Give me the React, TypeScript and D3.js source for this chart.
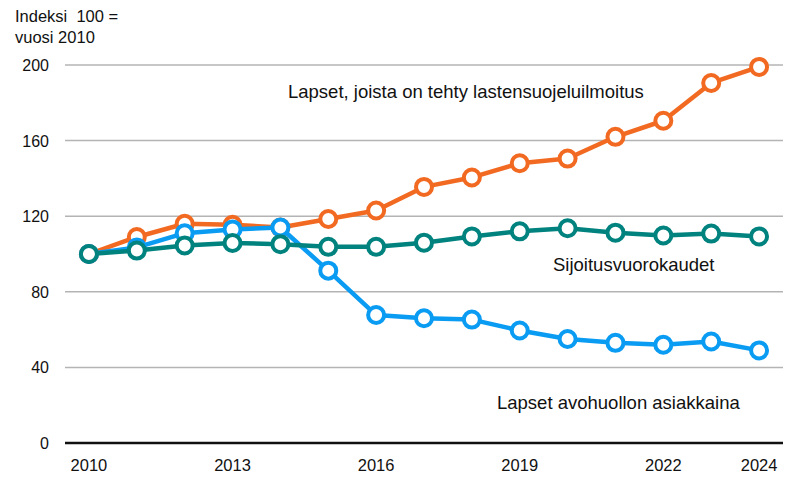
import React from "react";
import * as d3 from "d3";

const years = [2010, 2011, 2012, 2013, 2014, 2015, 2016, 2017, 2018, 2019, 2020, 2021, 2022, 2023, 2024];
const ilmoitus = [100, 109, 116, 115.5, 114, 118.5, 123, 135.5, 140.5, 148, 150.5, 162, 170.5, 190.5, 199];
const avohuolto = [100, 103.5, 111, 113, 114, 91.2, 67.7, 66, 65.3, 59.5, 55, 53, 52, 53.7, 49];
const sijoitus = [100, 101.8, 104.5, 105.8, 105.2, 103.8, 103.8, 106, 109.3, 112, 113.6, 111.3, 109.8, 110.8, 109.3];
const yTicks = [0, 40, 80, 120, 160, 200];
const xTickYears = [2010, 2013, 2016, 2019, 2022, 2024];

const W = 805, H = 478;
const left = 65, right = 783, top = 65, bottom = 443;
const FONT = "'Liberation Sans', Arial, sans-serif";

export default function App() {
  const x = d3.scaleBand<number>().domain(years).range([left, right]);
  const cx = (yr: number) => (x(yr) as number) + x.bandwidth() / 2;
  const y = d3.scaleLinear().domain([0, 200]).range([bottom, top]);
  const line = d3.line<number>().x((_, i) => cx(years[i])).y((v) => y(v));

  const series = [
    { vals: ilmoitus, color: "#F26A21" },
    { vals: avohuolto, color: "#0A9BF2" },
    { vals: sijoitus, color: "#00827E" },
  ];

  return (
    <div style={{ position: "absolute", left: 0, top: 0 }}>
      <svg width={W} height={H} style={{ display: "block", background: "#fff" }} fontFamily={FONT}>
        {yTicks.filter((t) => t > 0).map((t) => (
          <line key={t} x1={left} x2={right} y1={y(t)} y2={y(t)} stroke="#b4b4b4" strokeWidth={1.5} />
        ))}
        <line x1={left} x2={right} y1={y(0)} y2={y(0)} stroke="#111" strokeWidth={2.5} />
        {yTicks.map((t) => (
          <text key={t} x={49} y={y(t) + 6} textAnchor="end" fontSize={16} fill="#111">{t}</text>
        ))}
        {xTickYears.map((yr) => (
          <text key={yr} x={cx(yr)} y={471} textAnchor="middle" fontSize={16.5} fill="#111">{yr}</text>
        ))}
        <text x={15} y={22} fontSize={16.5} fill="#111" style={{ whiteSpace: "pre" }}>Indeksi  100 =</text>
        <text x={15} y={43} fontSize={16.5} fill="#111">vuosi 2010</text>
        {series.map((s, k) => (
          <g key={k}>
            <path d={line(s.vals) as string} fill="none" stroke={s.color} strokeWidth={4.5} strokeLinejoin="round" />
            {s.vals.map((v, i) => (
              <circle key={i} cx={cx(years[i])} cy={y(v)} r={8} fill="#fff" stroke={s.color} strokeWidth={4} />
            ))}
          </g>
        ))}
        <text x={288} y={98} fontSize={18.5} fill="#111">Lapset, joista on tehty lastensuojeluilmoitus</text>
        <text x={553} y={271} fontSize={18.5} fill="#111">Sijoitusvuorokaudet</text>
        <text x={497} y={409} fontSize={18.5} fill="#111">Lapset avohuollon asiakkaina</text>
      </svg>
    </div>
  );
}
